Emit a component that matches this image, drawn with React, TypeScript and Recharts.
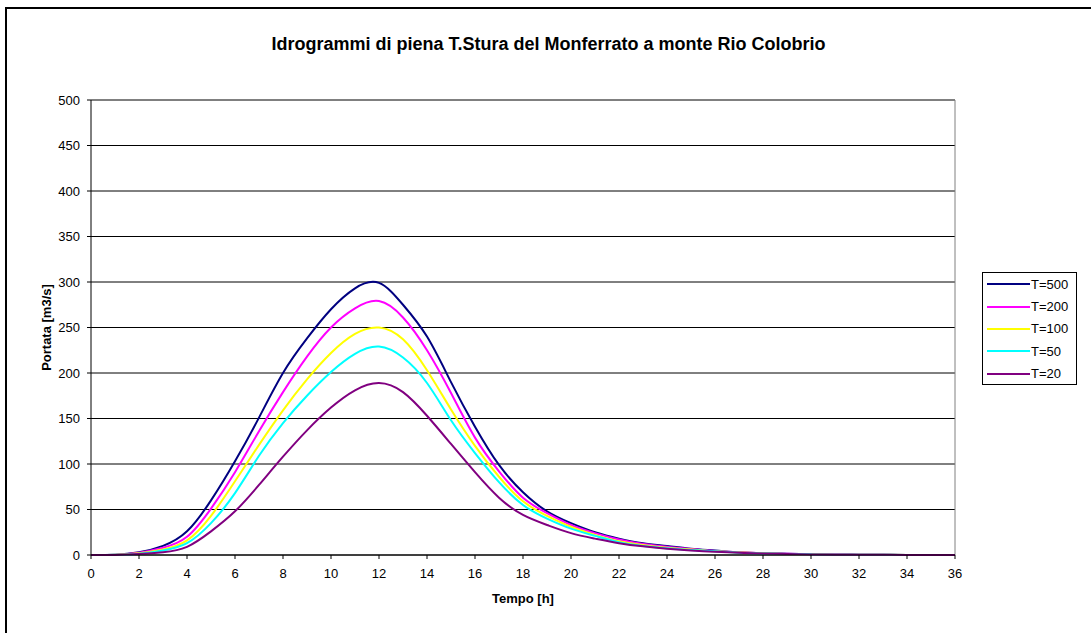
import React from 'react';
import { LineChart, Line, XAxis, YAxis, CartesianGrid, Legend, ReferenceLine } from 'recharts';

const HOURS = [0, 1, 2, 3, 4, 5, 6, 7, 8, 9, 10, 11, 12, 13, 14, 15, 16, 17, 18, 19, 20, 21, 22, 23, 24, 25, 26, 27, 28, 29, 30, 31, 32, 33, 34, 35, 36];
const T500 = [0, 0.3, 3, 10, 26, 60, 103, 151, 200, 238, 270, 293, 299, 275, 240, 190, 141, 99, 69, 48, 35, 25, 18, 13, 10, 7, 5, 3, 2, 1.5, 1, 0.6, 0.4, 0.2, 0.1, 0, 0];
const T200 = [0, 0.3, 2.5, 8, 20, 51, 91, 136, 179, 218, 250, 271, 279, 261, 225, 178, 129, 92, 63, 46, 33, 24, 17, 12, 9, 6.5, 4.5, 3, 2, 1.3, 0.8, 0.5, 0.3, 0.2, 0.1, 0, 0];
const T100 = [0, 0.2, 2, 6, 16, 43, 81, 121, 159, 193, 222, 243, 250, 237, 203, 160, 120, 86, 59, 43, 31, 22, 15, 11, 8, 6, 4, 2.7, 1.8, 1.2, 0.7, 0.4, 0.3, 0.2, 0.1, 0, 0];
const T50 = [0, 0.2, 1.5, 5, 13, 35, 68, 109, 145, 175, 201, 221, 229, 217, 189, 148, 112, 80, 55, 40, 29, 21, 14, 10, 7.5, 5.5, 4, 2.5, 1.7, 1.1, 0.7, 0.4, 0.3, 0.2, 0.1, 0, 0];
const T20 = [0, 0.1, 1, 3, 9, 26, 48, 77, 108, 137, 162, 181, 189, 179, 153, 122, 91, 63, 44, 33, 24, 18, 13, 9.5, 7, 5, 3.5, 2.5, 1.6, 1, 0.6, 0.4, 0.3, 0.2, 0.1, 0, 0];

const SERIES_KEYS = ['T500', 'T200', 'T100', 'T50', 'T20'];
const SERIES_NAMES = ['T=500', 'T=200', 'T=100', 'T=50', 'T=20'];
const COLORS = ['#000080', '#FF00FF', '#FFFF00', '#00FFFF', '#800080'];

const X_TICKS = [0, 2, 4, 6, 8, 10, 12, 14, 16, 18, 20, 22, 24, 26, 28, 30, 32, 34, 36];
const Y_TICKS = [0, 50, 100, 150, 200, 250, 300, 350, 400, 450, 500];

const data = HOURS.map((h, i) => ({
  h,
  T500: T500[i],
  T200: T200[i],
  T100: T100[i],
  T50: T50[i],
  T20: T20[i],
}));

const FONT = 'Arial, "Liberation Sans", sans-serif';

const renderLegend = (props: any) => {
  // keep series order (500 -> 20) instead of the alphabetical default
  const items = [...(props.payload || [])].sort(
    (a: any, b: any) => SERIES_NAMES.indexOf(a.value) - SERIES_NAMES.indexOf(b.value)
  );
  return (
    <div style={{ border: '1px solid #000', background: '#fff', width: 95, height: 113, boxSizing: 'border-box' }}>
      {items.map((entry: any, i: number) => (
        <div key={`leg-${i}`} style={{ display: 'flex', alignItems: 'center', height: 22.4 }}>
          <svg width={48} height={6} style={{ display: 'block' }}>
            <line x1={4} y1={3} x2={47} y2={3} stroke={entry.color} strokeWidth={2} />
          </svg>
          <span style={{ fontSize: 13, fontFamily: FONT, color: '#000', lineHeight: '13px' }}>{entry.value}</span>
        </div>
      ))}
    </div>
  );
};

export default function App() {
  return (
    <div style={{ position: 'absolute', left: 0, top: 0, width: 1091, height: 633, background: '#fff', fontFamily: FONT }}>
      <div style={{ position: 'absolute', left: 5, top: 7, width: 1086, height: 626, borderLeft: '2px solid #000', borderTop: '2px solid #000', boxSizing: 'border-box' }} />
      <div style={{ position: 'absolute', left: 0, top: 34, width: 1097, textAlign: 'center', fontWeight: 'bold', fontSize: 18, lineHeight: '21px', color: '#000' }}>
        Idrogrammi di piena T.Stura del Monferrato a monte Rio Colobrio
      </div>
      <div style={{ position: 'absolute', left: 0, top: 0 }}>
        <LineChart width={1091} height={633} data={data} margin={{ top: 100, right: 136, bottom: 48, left: 31 }}>
          <CartesianGrid vertical={false} stroke="#000" strokeWidth={1} />
          <XAxis
            dataKey="h"
            type="number"
            domain={[0, 36]}
            ticks={X_TICKS}
            interval={0}
            height={30}
            tickSize={4}
            tickMargin={10}
            stroke="#000"
            tick={{ fill: '#000', fontSize: 13, fontFamily: FONT }}
            label={{ value: 'Tempo [h]', position: 'center', dy: 28, fontSize: 13, fontWeight: 'bold', fill: '#000', fontFamily: FONT }}
          />
          <YAxis
            type="number"
            domain={[0, 500]}
            ticks={Y_TICKS}
            interval={0}
            width={60}
            tickSize={4}
            tickMargin={7}
            stroke="#000"
            tick={{ fill: '#000', fontSize: 13, fontFamily: FONT }}
            label={{ value: 'Portata [m3/s]', angle: -90, position: 'center', dx: -15, fontSize: 13, fontWeight: 'bold', fill: '#000', fontFamily: FONT }}
          />
          <ReferenceLine y={500} stroke="#808080" strokeWidth={1} />
          <ReferenceLine x={36} stroke="#808080" strokeWidth={1} />
          {SERIES_KEYS.map((k, i) => (
            <Line
              key={k}
              type="natural"
              dataKey={k}
              name={SERIES_NAMES[i]}
              stroke={COLORS[i]}
              strokeWidth={2}
              dot={false}
              activeDot={false}
              isAnimationActive={false}
            />
          ))}
          <Legend
            layout="vertical"
            align="center"
            verticalAlign="middle"
            content={renderLegend}
            wrapperStyle={{ left: 982, top: 272, width: 95, height: 113 }}
          />
        </LineChart>
      </div>
    </div>
  );
}
